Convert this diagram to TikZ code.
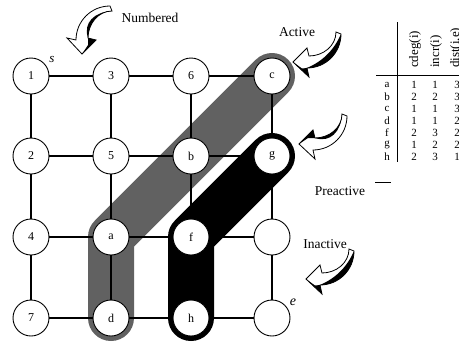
\documentclass[tikz,border=0pt]{standalone}
\usepackage{fontspec}
\setmainfont{Liberation Serif}
\usetikzlibrary{backgrounds}
\tikzset{
  vtx/.style={circle, draw, fill=white, minimum size=36pt, inner sep=0pt, line width=0.9pt, font=\fontsize{12}{12}\selectfont},
  edge/.style={line width=1.1pt},
  grayband/.style={line width=46pt, line cap=round, line join=round, draw=black!62},
  blackband/.style={line width=46pt, line cap=round, line join=round, draw=black},
  lbl/.style={font=\fontsize{13.5}{14}\selectfont, inner sep=0pt},
  tab/.style={font=\fontsize{11}{11}\selectfont, inner sep=0pt},
  tabhead/.style={font=\fontsize{13}{13}\selectfont, inner sep=0pt, rotate=90, anchor=west},
  rule/.style={line width=0.9pt},
  arrowbody/.style={fill=white, draw=black, line width=0.8pt, line join=miter},
  outarrow/.pic={
    \filldraw[arrowbody] (0,0) -- (16,15) -- (14,6) .. controls (32.8,6) and (48,-9.2) .. (48,-28) -- (43,-30) .. controls (43,-16) and (30,-6) .. (16,-6) -- (14,-14) -- cycle;
    \fill (14,6) .. controls (32.8,6) and (48,-9.2) .. (48,-28) .. controls (41,-12) and (30,-1) .. cycle;
    \fill (0,0) -- (16,15) -- (14,6) -- (9,6.5) -- cycle;
  },
  inarrow/.pic={
    \filldraw[arrowbody] (0,0) -- (16,15) -- (14,6) .. controls (32.8,6) and (48,-9.2) .. (48,-28) -- (43,-30) .. controls (43,-16) and (30,-6) .. (16,-6) -- (14,-14) -- cycle;
    \fill (16,-6) .. controls (30,-6) and (43,-16) .. (43,-30) .. controls (42,-12) and (31,-1) .. cycle;
    \fill (0,0) -- (14,-14) -- (16,-6) -- (9,-6) -- cycle;
  },
  downarrow/.pic={
    \filldraw[arrowbody] (0,0) -- (-15,-16) -- (-6,-14) .. controls (-6,-32.8) and (9.2,-48) .. (28,-48) -- (30,-43) .. controls (16,-43) and (6,-30) .. (6,-16) -- (14,-14) -- cycle;
    \fill (6,-16) .. controls (6,-30) and (16,-43) .. (30,-43) .. controls (12,-42) and (1,-31) .. cycle;
    \fill (0,0) -- (14,-14) -- (6,-16) -- (6,-9) -- cycle;
  }
}
\begin{document}
\begin{tikzpicture}[x=1pt, y=-1pt]
\clip (0,0) rectangle (459,341);
% vertices
\node[vtx] (n1) at (31,76) {1};
\node[vtx] (n3) at (111,76) {3};
\node[vtx] (n6) at (191,76) {6};
\node[vtx] (nc) at (272,76) {c};
\node[vtx] (n2) at (31,156) {2};
\node[vtx] (n5) at (111,156) {5};
\node[vtx] (nb) at (191,156) {b};
\node[vtx] (ng) at (272,156) {g};
\node[vtx] (n4) at (31,237) {4};
\node[vtx] (na) at (111,237) {a};
\node[vtx] (nf) at (191,237) {f};
\node[vtx] (nx) at (272,237) {};
\node[vtx] (n7) at (31,318) {7};
\node[vtx] (nd) at (111,318) {d};
\node[vtx] (nh) at (191,318) {h};
\node[vtx] (ne) at (272,318) {};
% grid edges
\draw[edge] (n1) -- (n3) (n3) -- (n6) (n6) -- (nc);
\draw[edge] (n2) -- (n5) (n5) -- (nb) (nb) -- (ng);
\draw[edge] (n4) -- (na) (na) -- (nf) (nf) -- (nx);
\draw[edge] (n7) -- (nd) (nd) -- (nh) (nh) -- (ne);
\draw[edge] (n1) -- (n2) (n2) -- (n4) (n4) -- (n7);
\draw[edge] (n3) -- (n5) (n5) -- (na) (na) -- (nd);
\draw[edge] (n6) -- (nb) (nb) -- (nf) (nf) -- (nh);
\draw[edge] (nc) -- (ng) (ng) -- (nx) (nx) -- (ne);
% bands
\begin{scope}[on background layer]
\draw[grayband] (nc.center) -- (na.center) -- (nd.center);
\draw[blackband] (ng.center) -- (nf.center) -- (nh.center);
\end{scope}
% vertex labels
\node[font=\fontsize{13}{13}\selectfont\itshape, inner sep=0pt] (slab) at (52,59) {s};
\node[font=\fontsize{14}{14}\selectfont\itshape, inner sep=0pt] (elab) at (293,302) {e};
% state labels
\node[lbl] (tnum) at (150,18) {Numbered};
\node[lbl] (tact) at (297,32) {Active};
\node[lbl] (tpre) at (340,191) {Preactive};
\node[lbl] (tina) at (325,244) {Inactive};
% bent arrows
\begin{scope}[shift={(82,54)}]
\pic {downarrow};
\end{scope}
\begin{scope}[shift={(293,62)}, scale=0.9]
\pic {outarrow};
\end{scope}
\begin{scope}[shift={(299,144)}, yscale=-1, scale=0.95]
\pic {inarrow};
\end{scope}
\begin{scope}[shift={(306,279)}, scale=0.88]
\pic {outarrow};
\end{scope}
% table
\draw[rule] (397,22) -- (397,162);
\draw[rule] (376,75) -- (459,75);
\draw[rule] (375,182) -- (391,182);
\node[tabhead] (h1) at (415,68) {cdeg(i)};
\node[tabhead] (h2) at (436,68) {incr(i)};
\node[tabhead] (h3) at (456,68) {dist(i,e)};
\foreach \r/\c/\i/\d [count=\k from 0] in {a/1/1/3, b/2/2/3, c/1/1/3, d/1/1/2, f/2/3/2, g/1/2/2, h/2/3/1}{
  \node[tab] (r\k) at (387,85+12*\k) {\r};
  \node[tab] (c\k) at (414,85+12*\k) {\c};
  \node[tab] (i\k) at (435,85+12*\k) {\i};
  \node[tab] (d\k) at (457,85+12*\k) {\d};
}
\end{tikzpicture}
\end{document}
